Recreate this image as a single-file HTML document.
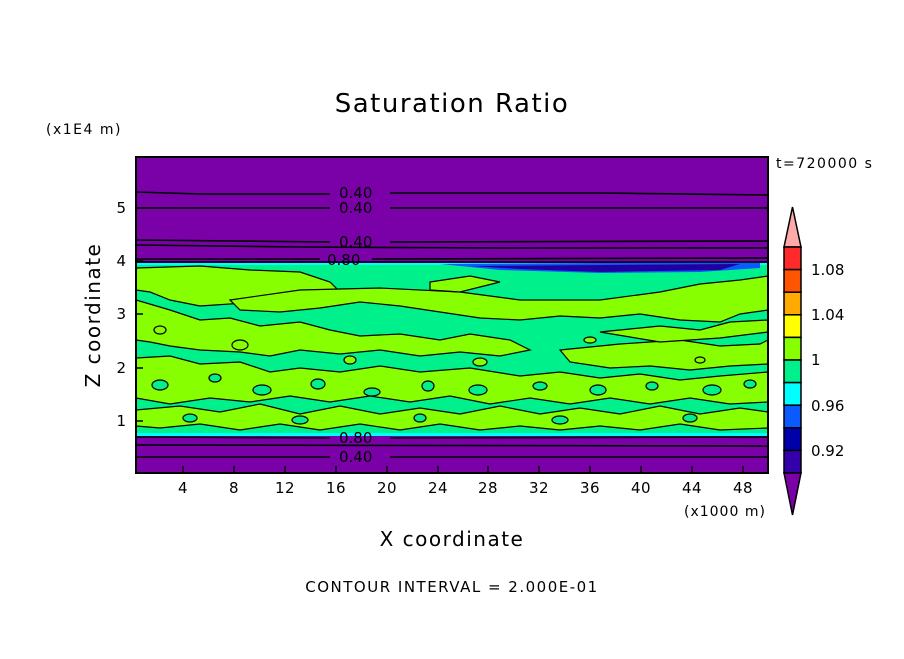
<!DOCTYPE html>
<html><head><style>
body{margin:0;background:#fff;}
svg text{font-family:"DejaVu Sans","Liberation Sans",sans-serif;}
</style></head><body>
<svg width="904" height="654" viewBox="0 0 904 654" xmlns="http://www.w3.org/2000/svg">
<rect width="904" height="654" fill="#fff"/>
<text x="452" y="112" font-size="26" letter-spacing="1.5" text-anchor="middle" fill="#000">Saturation Ratio</text>
<text x="46" y="134" font-size="14" letter-spacing="1.5" fill="#000">(x1E4 m)</text>
<text x="776" y="168" font-size="14" letter-spacing="1.5" fill="#000">t=720000 s</text>
<defs><clipPath id="c"><rect x="136" y="157" width="632" height="316"/></clipPath></defs>
<g clip-path="url(#c)">
<rect x="136" y="157" width="632" height="316" fill="#7a00a8"/>
<rect x="136" y="263" width="632" height="173" fill="#00f08c"/>
<rect x="136" y="263" width="632" height="2" fill="#00ffff"/>
<path d="M440 264 L760 262 L760 268 L700 272 L600 273 L500 270 Z" fill="#0a5aff"/>
<path d="M470 266 L740 264 L720 270 L600 272 L520 269 Z" fill="#2200a0"/>
<rect x="136" y="433" width="632" height="3" fill="#00ffff"/>
<rect x="136" y="283" width="25" height="4" fill="#0a5aff"/>
<g fill="#88ff00" stroke="#000" stroke-width="1.2">
<path d="M136 268 L200 266 L250 270 L300 272 L330 282 L340 292 L300 298 L260 302 L200 306 L170 300 L150 292 L136 290 Z"/>
<path d="M230 300 L300 290 L380 288 L460 292 L520 300 L600 300 L660 292 L700 284 L740 280 L768 276 L768 310 L740 314 L720 322 L680 320 L640 314 L600 318 L560 316 L520 320 L480 318 L440 312 L400 306 L360 302 L320 308 L280 312 L240 310 Z"/>
<path d="M430 282 L470 276 L500 282 L460 292 L430 290 Z"/>
<path d="M136 300 L170 310 L200 320 L230 318 L260 326 L300 322 L330 330 L360 336 L400 334 L440 340 L470 334 L510 340 L530 350 L500 356 L460 352 L420 356 L380 350 L340 354 L300 350 L270 356 L240 352 L200 350 L170 346 L150 342 L136 340 Z"/>
<path d="M560 350 L620 344 L680 340 L720 346 L760 344 L768 340 L768 364 L730 366 L690 370 L650 366 L610 368 L570 362 Z"/>
<path d="M600 332 L660 326 L700 330 L730 322 L768 320 L768 332 L720 338 L660 342 Z"/>
<path d="M136 358 L170 356 L200 364 L240 362 L270 372 L300 368 L340 372 L380 366 L420 372 L470 368 L520 376 L560 372 L600 378 L640 374 L680 380 L720 376 L768 372 L768 402 L730 404 L690 398 L650 404 L610 398 L570 404 L530 398 L490 404 L450 396 L410 402 L370 396 L330 402 L290 396 L250 402 L210 398 L170 404 L136 398 Z"/>
<path d="M136 410 L180 406 L220 412 L260 404 L300 414 L340 406 L380 414 L420 408 L460 414 L500 406 L540 414 L580 408 L620 414 L660 406 L700 414 L740 408 L768 412 L768 428 L720 430 L680 424 L640 430 L600 426 L560 430 L520 426 L480 430 L440 424 L400 430 L360 424 L320 430 L280 424 L240 430 L200 424 L160 428 L136 426 Z"/>
</g>
<g fill="#00f08c" stroke="#000" stroke-width="1.2">
<ellipse cx="160" cy="385" rx="8" ry="5"/><ellipse cx="215" cy="378" rx="6" ry="4"/>
<ellipse cx="262" cy="390" rx="9" ry="5"/><ellipse cx="318" cy="384" rx="7" ry="5"/>
<ellipse cx="372" cy="392" rx="8" ry="4"/><ellipse cx="428" cy="386" rx="6" ry="5"/>
<ellipse cx="478" cy="390" rx="9" ry="5"/><ellipse cx="540" cy="386" rx="7" ry="4"/>
<ellipse cx="598" cy="390" rx="8" ry="5"/><ellipse cx="652" cy="386" rx="6" ry="4"/>
<ellipse cx="712" cy="390" rx="9" ry="5"/><ellipse cx="750" cy="384" rx="6" ry="4"/>
<ellipse cx="190" cy="418" rx="7" ry="4"/><ellipse cx="300" cy="420" rx="8" ry="4"/>
<ellipse cx="420" cy="418" rx="6" ry="4"/><ellipse cx="560" cy="420" rx="8" ry="4"/>
<ellipse cx="690" cy="418" rx="7" ry="4"/>
</g>
<g fill="#88ff00" stroke="#000" stroke-width="1.2">
<ellipse cx="240" cy="345" rx="8" ry="5"/><ellipse cx="350" cy="360" rx="6" ry="4"/>
<ellipse cx="480" cy="362" rx="7" ry="4"/><ellipse cx="160" cy="330" rx="6" ry="4"/>
<ellipse cx="590" cy="340" rx="6" ry="3"/><ellipse cx="700" cy="360" rx="5" ry="3"/>
</g>
<g fill="none" stroke="#000" stroke-width="1.6">
<path d="M136 192 L200 194 L330 194 M390 193 L600 193 L768 195"/>
<path d="M136 208 L330 208 M390 208 L768 208"/>
<path d="M136 240 L330 242 M390 242 L768 241"/>
<path d="M136 245 L300 247 L500 248 L768 248"/>
<path d="M136 259 L320 259 M372 259 L768 258"/>
<path d="M136 262 L768 262"/>
<path d="M136 437 L330 438 M390 438 L768 437"/>
<path d="M136 445 L768 446"/>
<path d="M136 457 L330 457 M390 457 L768 457"/>
</g>
<g font-size="15" fill="#000">
<text x="339" y="198">0.40</text><text x="339" y="213">0.40</text>
<text x="339" y="247">0.40</text><text x="327" y="265">0.80</text>
<text x="339" y="443">0.80</text><text x="339" y="462">0.40</text>
</g>
</g>
<rect x="136" y="157" width="632" height="316" fill="none" stroke="#000" stroke-width="2"/>
<g stroke="#000" stroke-width="1.5">
<line x1="183" y1="473" x2="183" y2="466"/><line x1="234" y1="473" x2="234" y2="466"/><line x1="285" y1="473" x2="285" y2="466"/><line x1="336" y1="473" x2="336" y2="466"/><line x1="387" y1="473" x2="387" y2="466"/><line x1="438" y1="473" x2="438" y2="466"/><line x1="488" y1="473" x2="488" y2="466"/><line x1="539" y1="473" x2="539" y2="466"/><line x1="590" y1="473" x2="590" y2="466"/><line x1="641" y1="473" x2="641" y2="466"/><line x1="692" y1="473" x2="692" y2="466"/><line x1="743" y1="473" x2="743" y2="466"/>
<line x1="136" y1="208" x2="143" y2="208"/><line x1="136" y1="261" x2="143" y2="261"/><line x1="136" y1="314" x2="143" y2="314"/><line x1="136" y1="368" x2="143" y2="368"/><line x1="136" y1="421" x2="143" y2="421"/>
</g>
<g font-size="15" fill="#000" text-anchor="middle" letter-spacing="0.5">
<text x="183" y="493">4</text><text x="234" y="493">8</text><text x="285" y="493">12</text><text x="336" y="493">16</text><text x="387" y="493">20</text><text x="438" y="493">24</text><text x="488" y="493">28</text><text x="539" y="493">32</text><text x="590" y="493">36</text><text x="641" y="493">40</text><text x="692" y="493">44</text><text x="743" y="493">48</text>
</g>
<g font-size="15" fill="#000" text-anchor="end">
<text x="126" y="213">5</text><text x="126" y="266">4</text><text x="126" y="319">3</text><text x="126" y="373">2</text><text x="126" y="426">1</text>
</g>
<text x="684" y="516" font-size="14" letter-spacing="1" fill="#000">(x1000 m)</text>
<text x="452" y="546" font-size="20" letter-spacing="1.5" text-anchor="middle" fill="#000">X coordinate</text>
<text x="100" y="315" font-size="20" letter-spacing="1.5" text-anchor="middle" fill="#000" transform="rotate(-90 100 315)">Z coordinate</text>
<text x="452" y="592" font-size="15" letter-spacing="1.5" text-anchor="middle" fill="#000">CONTOUR INTERVAL = 2.000E-01</text>
<g stroke="#000" stroke-width="1.5">
<polygon points="784,247 801,247 792.5,207" fill="#ffaaaa"/>
<rect x="784" y="247" width="17" height="22.6" fill="#ff2a2a"/>
<rect x="784" y="269.6" width="17" height="22.6" fill="#ff5500"/>
<rect x="784" y="292.2" width="17" height="22.6" fill="#ffaa00"/>
<rect x="784" y="314.8" width="17" height="22.6" fill="#ffff00"/>
<rect x="784" y="337.4" width="17" height="22.6" fill="#88ff00"/>
<rect x="784" y="360" width="17" height="22.6" fill="#00f08c"/>
<rect x="784" y="382.6" width="17" height="22.6" fill="#00ffff"/>
<rect x="784" y="405.2" width="17" height="22.6" fill="#0a5aff"/>
<rect x="784" y="427.8" width="17" height="22.6" fill="#0000aa"/>
<rect x="784" y="450.4" width="17" height="22.6" fill="#3300aa"/>
<polygon points="784,473 801,473 792.5,515" fill="#7a00a8"/>
</g>
<g font-size="15" fill="#000">
<text x="811" y="275">1.08</text><text x="811" y="320">1.04</text><text x="811" y="365">1</text><text x="811" y="411">0.96</text><text x="811" y="456">0.92</text>
</g>
</svg>
</body></html>
